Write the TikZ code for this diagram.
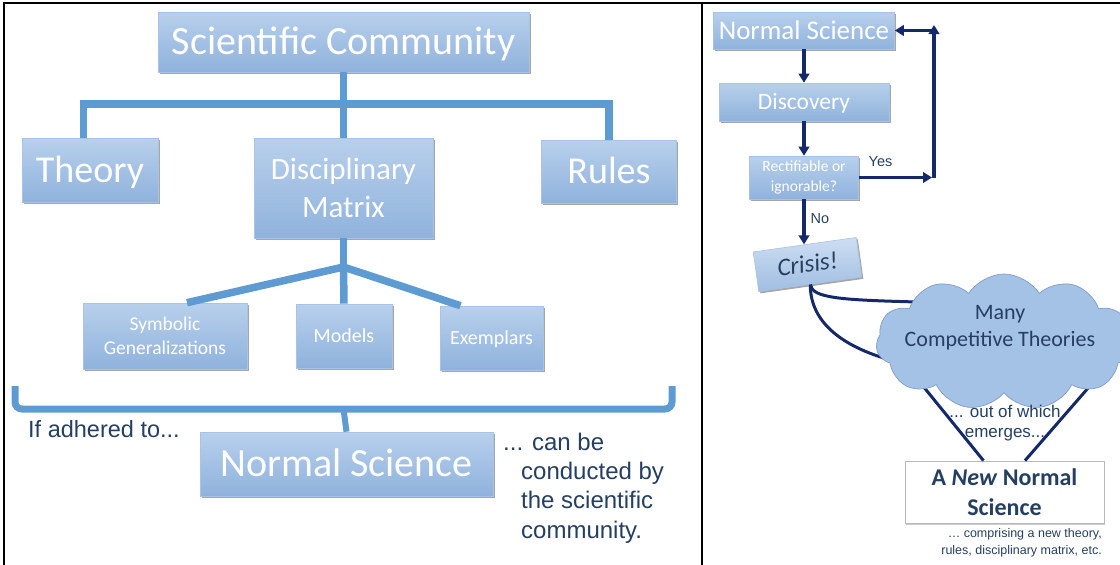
\documentclass[tikz,border=0pt]{standalone}
\usepackage{fontspec}
\setmainfont{Carlito}
\newfontfamily\arialfont{Liberation Sans}
\usetikzlibrary{shadows,shapes.symbols,arrows.meta,calc}
\definecolor{boxtop}{HTML}{B8D0EC}
\definecolor{boxbot}{HTML}{8FB2DC}
\definecolor{boxedge}{HTML}{A8C3E6}
\definecolor{barblue}{HTML}{5F9BD3}
\definecolor{navy}{HTML}{14296A}
\definecolor{inkblue}{HTML}{243F62}
\definecolor{cloudfill}{HTML}{A4C2E5}
\definecolor{cloudedge}{HTML}{7F9EC6}
\newcommand\sz[2]{\fontsize{#1}{#2}\selectfont}
\tikzset{
  frame/.style={line width=2.4pt, black},
  bluebox/.style={rectangle, draw=boxedge, line width=0.6pt,
    top color=boxtop, bottom color=boxbot, text=white, align=center,
    inner sep=0pt,
    drop shadow={shadow xshift=1.6pt, shadow yshift=-1.8pt, fill=black, opacity=0.35}},
  % single-line labels: box as tall as the capitals, so capitals sit centred
  capline/.style={text height=#1, text depth=0pt},
  bar/.style={line width=7.5pt, barblue},
  arr/.style={line width=3.1pt, navy, -{Triangle[length=9pt,width=10.5pt]}},
  link/.style={line width=3pt, navy},
  note/.style={inner sep=0pt, text=inkblue, font=\arialfont},
}
\begin{document}
\begin{tikzpicture}[x=1pt,y=-1pt]
\useasboundingbox (0,0) rectangle (1120,565);
\begin{scope}
\clip (0,0) rectangle (1120,565);

% ---------- left panel: the hierarchy ----------
\node[bluebox, capline=25.8pt, minimum width=371pt, minimum height=60pt, font=\sz{40}{48}] (sc) at (343.5,42) {Scientific Community};
\node[bluebox, capline=24.5pt, minimum width=136pt, minimum height=64pt, font=\sz{38}{46}] (theory) at (90,170) {Theory};
\node[bluebox, minimum width=179pt, minimum height=100pt, font=\sz{31}{38}] (dm) at (343.5,188) {Disciplinary\\Matrix};
\node[bluebox, capline=24.5pt, minimum width=135pt, minimum height=63pt, font=\sz{38}{46}] (rules) at (609,171.5) {Rules};

\node[bluebox, minimum width=164pt, minimum height=66pt, font=\sz{19.5}{24}] (sym) at (165,336) {Symbolic\\Generalizations};
\node[bluebox, capline=12.9pt, minimum width=96pt, minimum height=64pt, font=\sz{20}{24}] (models) at (344,336) {Models};
\node[bluebox, capline=12.9pt, minimum width=103pt, minimum height=64pt, font=\sz{20}{24}] (ex) at (491.5,338) {Exemplars};

\node[bluebox, capline=25.8pt, minimum width=293pt, minimum height=64pt, font=\sz{40}{48}] (nsl) at (346.5,464) {Normal Science};

% connectors of the hierarchy
\coordinate (topjoin) at (343.5,104);
\coordinate (subjoin) at (343.5,267);
\draw[bar] (sc.south) -- (dm.north);
\draw[bar] ([xshift=-6.5pt]theory.north) |- (topjoin) -| (rules.north);
\draw[bar] (dm.south) -- (subjoin);
\draw[bar] (subjoin) -- (models.north);
\draw[bar] (subjoin) -- ([xshift=22pt]sym.north);
\draw[bar] (subjoin) -- ([xshift=-31pt]ex.north);

% brace over the components
\coordinate (braceL) at (15,386);
\coordinate (braceR) at (672,386);
\coordinate (braceM) at (343.5,409);
\draw[bar, line width=7pt, rounded corners=7pt] (braceL) |- (braceM) -| (braceR);
\draw[bar, line width=6pt] (braceM) -- (nsl.north);

\node[note, anchor=base west, font=\arialfont\sz{23.5}{29}] (adhered) at (28,437) {If adhered to...};
\node[note, anchor=base west, align=left, font=\arialfont\sz{24}{29.3}] (conducted) at (521,538)
  {\hspace*{-18pt}... can be\\conducted by\\the scientific\\community.};

% ---------- right panel: the cycle ----------
\node[bluebox, capline=17.4pt, minimum width=181pt, minimum height=37pt, font=\sz{27}{32}] (ns2) at (804,30.5) {Normal Science};
\node[bluebox, capline=15.1pt, minimum width=170pt, minimum height=38pt, font=\sz{23.5}{28}] (disc) at (804,102) {Discovery};
\node[bluebox, minimum width=109pt, minimum height=43pt, font=\sz{15.5}{19.5}] (rect) at (804,177.5) {Rectifiable or\\ignorable?};
\node[bluebox, capline=16.1pt, minimum width=104pt, minimum height=40pt, rotate=8,
      top color=boxtop!70!white, bottom color=boxbot!85!white,
      text=inkblue, font=\itshape\sz{25}{30}] (crisis) at (807.5,264.5) {Crisis!};

\draw[arr] (ns2.south) -- (disc.north);
\draw[arr] (disc.south) -- (rect.north);
\draw[arr] (rect.south) -- (rect.south |- crisis.north);
\node[note, font=\arialfont\sz{14.5}{17}] (nolabel) at (820,219) {No};

\coordinate (yesend) at (932,177.5);
\coordinate (loopbot) at (934,177.5);
\coordinate (looptop) at (934,25);
\coordinate (loopturn) at (934,30.5);
\draw[arr] (rect.east) -- (yesend);
\draw[arr] (loopbot) -- (looptop);
\draw[arr] (loopturn) -- (ns2.east);
\node[note, font=\arialfont\sz{14.5}{17}] (yeslabel) at (880.5,161.5) {Yes};

% links from the crisis and down to the new paradigm
\coordinate (cloudA) at (918,302);
\coordinate (cloudB) at (898,362);
\coordinate (cloudC) at (914,375);
\coordinate (cloudD) at (1122,349);
\draw[link] (crisis.south) .. controls (812,298) and (840,300) .. (cloudA);
\draw[link] (crisis.south) .. controls (810,322) and (842,348) .. (cloudB);

\node[rectangle, draw=gray!55, line width=0.8pt, fill=white, inner sep=0pt,
      minimum width=199pt, minimum height=62pt, align=center, text=inkblue,
      font=\bfseries\sz{24}{30},
      drop shadow={shadow xshift=1.4pt, shadow yshift=-1.6pt, fill=black, opacity=0.2}]
      (newns) at (1004.5,492) {A \textit{New} Normal\\Science};
\draw[link] (cloudC) -- ([xshift=-21pt]newns.north);
\draw[link] (cloudD) -- ([xshift=20.5pt]newns.north);

\node[cloud, cloud puffs=11, cloud puff arc=115, cloud ignores aspect,
      minimum width=256pt, minimum height=136pt, inner sep=0pt,
      fill=cloudfill, draw=cloudedge, line width=0.7pt] (cloud) at (1004,342) {};
\node[inner sep=0pt, align=center, text=inkblue, font=\sz{22}{27}] (cloudtext) at (1000,328)
  {Many\\Competitive Theories};

\node[note, align=center, font=\arialfont\sz{17}{20}] (emerges) at (1005,423) {... out of which\\emerges...};
\node[note, anchor=north east, align=right, font=\arialfont\sz{12.5}{17}] (comprising) at (1102,528)
  {… comprising a new theory,\\rules, disciplinary matrix, etc.};

% ---------- panel frames ----------
\draw[frame] (4,565) -- (4,3) -- (1120,3);
\draw[frame] (702,3) -- (702,565);
\end{scope}
\end{tikzpicture}
\end{document}
